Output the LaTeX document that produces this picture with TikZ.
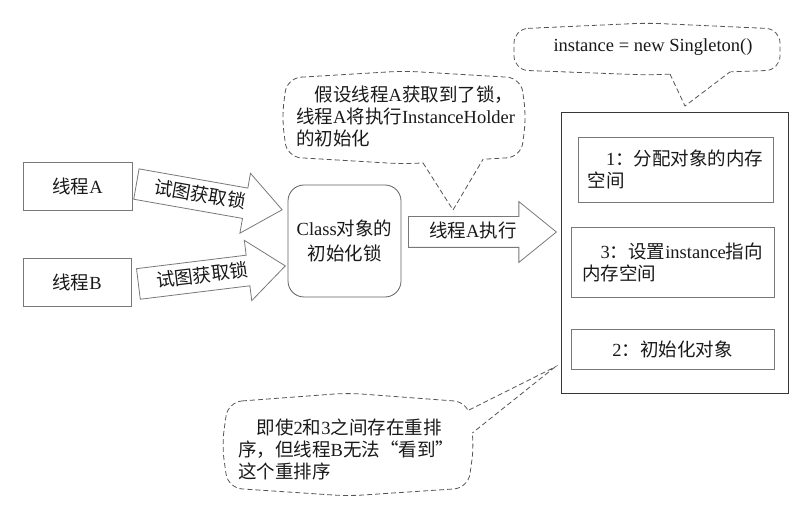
\documentclass[tikz,border=0pt]{standalone}
\usepackage{fontspec}
\setmainfont{Liberation Serif}
\newfontfamily\zh{Noto Sans CJK SC}
\usepackage{tikz}
\usetikzlibrary{positioning,shapes.arrows,calc}
\definecolor{textCol}{RGB}{25, 25, 25}
\definecolor{frameCol}{RGB}{55, 55, 55}
\definecolor{boxCol}{RGB}{120, 120, 120}
\definecolor{hintCol}{RGB}{85, 85, 85}
\tikzset{myBox/.style={draw=boxCol, line width=0.8pt, inner sep=0pt}}
\tikzset{myFatArrow/.style={single arrow, draw=boxCol, line width=0.8pt, single arrow head extend=15pt, single arrow tip angle=78, minimum height=148pt, inner xsep=4pt, inner ysep=7pt, text height=14pt, text depth=2pt}}
\tikzset{myHint/.style={draw=hintCol, line width=0.8pt, dash pattern=on 5pt off 3pt}}

\begin{document}
\begin{tikzpicture}[x=1pt,y=-1pt, every node/.style={font=\fontsize{18.5}{22}\selectfont, text=textCol}]
	\useasboundingbox (0,0) rectangle (796,505);
	%\draw[help lines, step=50pt] (0,0) grid (796,505);
	
	% callouts first, text comes later
	\coordinate (tipN) at (685,106);
	\coordinate (nL) at (670,74.1);
	\coordinate (nR) at (730,71.9);
	\draw[myHint, rounded corners=14pt] (514,29) -- (647,23) -- (780,29) -- (780,70) -- (647,75) -- (514,70) -- cycle;
	\fill[white] ($(tipN)!1.08!(nL)$) -- (tipN) -- ($(tipN)!1.08!(nR)$) -- cycle;
	\draw[myHint] (nL) -- (tipN) -- (nR);
	
	\coordinate (tipA) at (453,210);
	\coordinate (aL) at (423,162.9);
	\coordinate (aR) at (483,159.3);
	\draw[myHint, rounded corners=14pt] (287,78) -- (404,71) -- (521,78) -- (526,117) -- (521,157) -- (404,164) -- (287,157) -- (282,117) -- cycle;
	\fill[white] ($(tipA)!1.06!(aL)$) -- (tipA) -- ($(tipA)!1.06!(aR)$) -- cycle;
	\draw[myHint] (aL) -- (tipA) -- (aR);
	
	\coordinate (tipB) at (555,367);
	\coordinate (bT) at (469.1,410);
	\coordinate (bB) at (472.3,433);
	\draw[myHint, rounded corners=14pt] (228,402) -- (348,393) -- (468,402) -- (474,445) -- (468,488) -- (348,496) -- (228,488) -- (222,445) -- cycle;
	\fill[white] ($(tipB)!1.05!(bT)$) -- (tipB) -- ($(tipB)!1.05!(bB)$) -- cycle;
	\draw[myHint] (bT) -- (tipB) -- (bB);
	
	% threads and lock
	\node[myBox, minimum width=109pt, minimum height=48pt] (thA) at (77.5,186) {{\zh 线程}A};
	\node[myBox, minimum width=108pt, minimum height=48pt] (thB) at (77,282) {{\zh 线程}B};
	\node[myBox, draw=frameCol!80, rounded corners=16pt, minimum width=113pt, minimum height=112pt, align=center] (lock) at (344.5,241) {Class{\zh 对象的}\\[3pt]{\zh 初始化锁}};
	
	\node[myFatArrow, rotate=-10, anchor=tail] (tryA) at (136,184) {{\zh 试图获取锁}};
	\node[myFatArrow, rotate=7, anchor=tail] (tryB) at (138,284) {{\zh 试图获取锁}};
	\node[myFatArrow, anchor=tail] (runA) at (408,232) {{\zh 线程}A{\zh 执行}};
	
	% the object and its three steps
	\node[draw=frameCol, line width=0.9pt, minimum width=227pt, minimum height=281pt] (obj) at (674.5,252.5) {};
	\node[myBox, minimum width=195pt, minimum height=65pt, align=left] (stepOne) at (675.5,169.5) {\hspace*{1em}1{\zh ：分配对象的内存}\\{\zh 空间}};
	\node[myBox, minimum width=203pt, minimum height=70pt, align=left] (stepThree) at (672.5,262) {\hspace*{1em}3{\zh ：设置}instance{\zh 指向}\\{\zh 内存空间}};
	\node[myBox, minimum width=203pt, minimum height=40pt] (stepTwo) at (672.5,349) {2{\zh ：初始化对象}};
	
	% callout texts
	\node (newTxt) at (653,47) {instance = new Singleton()};
	\node[align=left, anchor=west, inner sep=0pt] (hintAtxt) at (296,116) {\hspace*{1em}{\zh 假设线程}A{\zh 获取到了锁，}\\{\zh 线程}A{\zh 将执行}InstanceHolder\\{\zh 的初始化}};
	\node[align=left, anchor=west, inner sep=0pt] (hintBtxt) at (238,449) {\hspace*{1em}{\zh 即使}2{\zh 和}3{\zh 之间存在重排}\\{\zh 序，但线程}B{\zh 无法“看到”}\\{\zh 这个重排序}};

\end{tikzpicture}
\end{document}
